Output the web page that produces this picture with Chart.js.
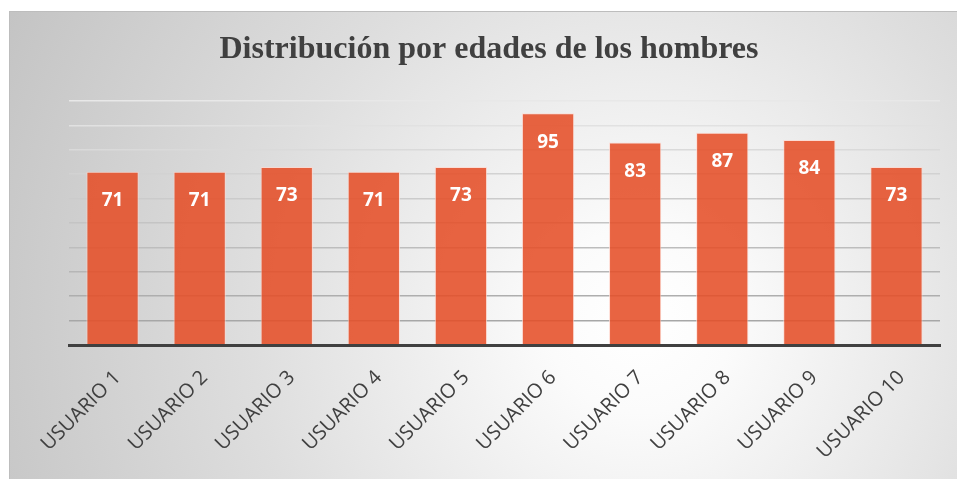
<!DOCTYPE html>
<html>
<head>
<meta charset="utf-8">
<script src="https://cdn.jsdelivr.net/npm/chart.js@4"></script>
<style>
html,body{margin:0;padding:0;background:#fff;}
#wrap{position:relative;width:957px;height:479px;}
</style>
</head>
<body>
<div id="wrap"><canvas id="c" width="957" height="479"></canvas></div>
<script>
const categories = ["USUARIO 1","USUARIO 2","USUARIO 3","USUARIO 4","USUARIO 5","USUARIO 6","USUARIO 7","USUARIO 8","USUARIO 9","USUARIO 10"];
const edades = [71, 71, 73, 71, 73, 95, 83, 87, 84, 73];
const titleText = "Distribución por edades de los hombres";
const yMin = 0, yMax = 100, yStep = 10;

const bgPlugin = {
  id: 'bg',
  beforeDraw(chart) {
    const ctx = chart.ctx;
    ctx.save();
    ctx.fillStyle = '#ffffff';
    ctx.fillRect(0, 0, chart.width, chart.height);
    const x0 = 9, y0 = 11, w = chart.width - x0, h = chart.height - y0;
    const g = ctx.createRadialGradient(640, 320, 10, 640, 320, 700);
    g.addColorStop(0, '#ffffff');
    g.addColorStop(0.12, '#fbfbfb');
    g.addColorStop(0.55, '#dedede');
    g.addColorStop(1, '#c4c4c4');
    ctx.fillStyle = g;
    ctx.fillRect(x0, y0, w, h);
    ctx.strokeStyle = '#bdbdbd';
    ctx.lineWidth = 1;
    ctx.strokeRect(x0 + 0.5, y0 + 0.5, w, h + 2);
    ctx.restore();
  }
};

const labelPlugin = {
  id: 'vals',
  afterDatasetsDraw(chart) {
    const ctx = chart.ctx;
    const meta = chart.getDatasetMeta(0);
    ctx.save();
    ctx.fillStyle = '#ffffff';
    ctx.font = 'bold 19px "Open Sans", sans-serif';
    ctx.textAlign = 'center';
    ctx.textBaseline = 'middle';
    meta.data.forEach((bar, i) => {
      ctx.fillText(String(chart.data.datasets[0].data[i]), bar.x, bar.y + 29);
    });
    ctx.restore();
  }
};

function gridColor(v) {
  const t = (yMax - v) / (yMax - yMin);
  const c = Math.round(232 - t * 72);
  return 'rgb(' + c + ',' + c + ',' + c + ')';
}

new Chart(document.getElementById('c'), {
  type: 'bar',
  data: {
    labels: categories,
    datasets: [{
      data: edades,
      backgroundColor: 'rgba(229,78,40,0.88)',
      borderColor: 'rgba(255,215,205,0.75)',
      borderWidth: 1,
      borderSkipped: 'bottom',
      categoryPercentage: 1,
      barPercentage: 0.6
    }]
  },
  options: {
    responsive: false,
    animation: false,
    events: [],
    layout: { padding: { left: 38, right: 17, top: 11, bottom: 0 } },
    plugins: {
      legend: { display: false },
      tooltip: { enabled: false },
      title: {
        display: true,
        text: titleText,
        color: '#404040',
        font: { family: '"Liberation Serif", "Times New Roman", serif', size: 32, weight: 'bold' },
        padding: { top: 20, bottom: 31.6 }
      }
    },
    scales: {
      x: {
        grid: { display: false, drawTicks: false },
        border: { display: true, color: '#404040', width: 3, z: 1 },
        ticks: {
          color: '#404040',
          font: { family: '"Open Sans", sans-serif', size: 20 },
          minRotation: 45,
          maxRotation: 45,
          padding: 21,
          labelOffset: 5,
          autoSkip: false
        },
        afterFit(scale) { scale.height = 134; }
      },
      y: {
        min: yMin,
        max: yMax,
        ticks: { display: false, stepSize: yStep },
        grid: {
          drawTicks: false,
          lineWidth: 1.5,
          color: (ctx) => ctx.tick ? gridColor(ctx.tick.value) : '#ccc'
        },
        border: { display: false },
        afterFit(scale) { scale.width = 31; }
      }
    }
  },
  plugins: [bgPlugin, labelPlugin]
});
</script>
</body>
</html>
